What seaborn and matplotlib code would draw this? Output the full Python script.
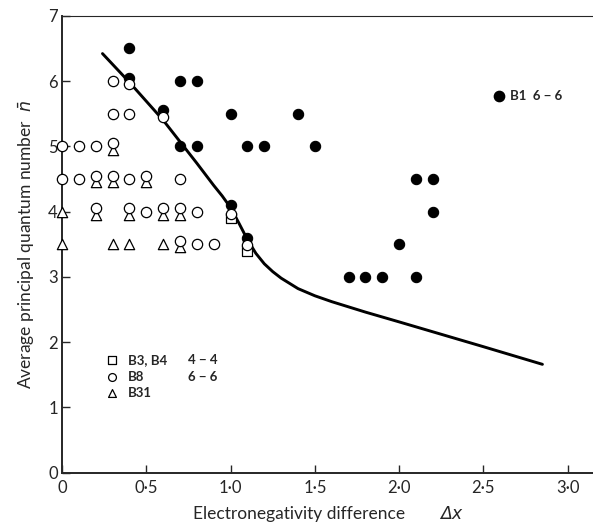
import matplotlib
matplotlib.use("Agg")
import matplotlib.pyplot as plt
import seaborn as sns
import pandas as pd

# ---- data ----
b1_x = [0.4, 0.4, 0.6, 0.7, 0.8, 0.7, 0.8, 1.0, 1.1, 1.2, 1.4, 1.5, 1.0, 1.1,
        1.7, 1.8, 1.9, 2.1, 2.0, 2.1, 2.2, 2.2]
b1_y = [6.5, 6.05, 5.55, 6.0, 6.0, 5.0, 5.0, 5.5, 5.0, 5.0, 5.5, 5.0, 4.1, 3.6,
        3.0, 3.0, 3.0, 3.0, 3.5, 4.5, 4.5, 4.0]

b8_x = [0.3, 0.4, 0.3, 0.4, 0.6,
        0.0, 0.1, 0.2, 0.3,
        0.0, 0.1, 0.2, 0.3, 0.4, 0.5, 0.7,
        0.2, 0.4, 0.5, 0.6, 0.7, 0.8, 1.0,
        0.7, 0.8, 0.9, 1.1]
b8_y = [6.0, 5.95, 5.5, 5.5, 5.45,
        5.0, 5.0, 5.0, 5.05,
        4.5, 4.5, 4.55, 4.55, 4.5, 4.55, 4.5,
        4.05, 4.05, 4.0, 4.05, 4.05, 4.0, 3.97,
        3.55, 3.5, 3.5, 3.49]

b31_x = [0.3, 0.2, 0.3, 0.5, 0.0, 0.2, 0.4, 0.6, 0.7, 0.0, 0.3, 0.4, 0.6, 0.7]
b31_y = [4.95, 4.45, 4.45, 4.45, 4.0, 3.95, 3.95, 3.95, 3.95, 3.5, 3.5, 3.5, 3.5, 3.45]

b3_x = [1.0, 1.1]
b3_y = [3.9, 3.4]

curve_x = [0.24, 0.40, 0.60, 0.80, 0.90, 0.95, 1.00, 1.05, 1.10, 1.15, 1.20,
           1.25, 1.30, 1.40, 1.50, 1.60, 1.70, 1.80, 2.00, 2.50, 2.85]
curve_y = [6.42, 5.98, 5.40, 4.74, 4.40, 4.24, 4.06, 3.82, 3.57, 3.36, 3.20,
           3.08, 2.98, 2.82, 2.71, 2.62, 2.54, 2.46, 2.31, 1.93, 1.66]

x_ticks = [0, 0.5, 1.0, 1.5, 2.0, 2.5, 3.0]
x_tick_labels = ["0", "0·5", "1·0", "1·5", "2·0", "2·5", "3·0"]
y_ticks = [0, 1, 2, 3, 4, 5, 6, 7]
y_tick_labels = ["0", "1", "2", "3", "4", "5", "6", "7"]

# ---- style ----
sns.set_style("ticks")
plt.rcParams["font.family"] = ["Lato", "DejaVu Sans"]
plt.rcParams["mathtext.fontset"] = "dejavusans"

W, H = 593, 524
fig = plt.figure(figsize=(W / 100, H / 100), dpi=100)
ax = fig.add_axes([0.1046, 0.0979, 0.8954, 0.8721])

curve_df = pd.DataFrame({"x": curve_x, "y": curve_y})
sns.lineplot(data=curve_df, x="x", y="y", ax=ax, sort=False, color="black",
             linewidth=2.1, zorder=1, estimator=None)

ms = 55
sns.scatterplot(x=b1_x, y=b1_y, ax=ax, marker="o", s=ms, color="black",
                edgecolor="black", linewidth=0.8, zorder=2, clip_on=False)
sns.scatterplot(x=b3_x, y=b3_y, ax=ax, marker="s", s=50, facecolor="white",
                edgecolor="black", linewidth=0.9, zorder=2, clip_on=False)
sns.scatterplot(x=b31_x, y=b31_y, ax=ax, marker="^", s=55, facecolor="white",
                edgecolor="black", linewidth=0.9, zorder=3, clip_on=False)
sns.scatterplot(x=b8_x, y=b8_y, ax=ax, marker="o", s=ms, facecolor="white",
                edgecolor="black", linewidth=0.9, zorder=4, clip_on=False)

# annotation keys
ax.scatter([2.59], [5.77], marker="o", s=55, color="black", zorder=5)
ax.text(2.655, 5.77, "B1  6 − 6", fontsize=9.5, fontweight="bold",
        va="center", ha="left")

key_y = [1.72, 1.47, 1.22]
key_m = ["s", "o", "^"]
key_t = ["B3, B4", "B8", "B31"]
key_c = ["4 − 4", "6 − 6", ""]
for yy, m, t, c in zip(key_y, key_m, key_t, key_c):
    ax.scatter([0.296], [yy], marker=m, s=32, facecolor="white",
               edgecolor="black", linewidth=0.9, zorder=5)
    ax.text(0.391, yy, t, fontsize=9.5, fontweight="bold", va="center", ha="left")
    if c:
        ax.text(0.747, yy, c, fontsize=9.5, fontweight="bold", va="center", ha="left")

ax.set_xlim(0, 3.15)
ax.set_ylim(0, 7)
ax.set_xticks(x_ticks)
ax.set_xticklabels(x_tick_labels)
ax.set_yticks(y_ticks)
ax.set_yticklabels(y_tick_labels)
ax.tick_params(axis="both", direction="in", labelsize=12, width=1.0)
ax.tick_params(axis="y", length=6, pad=3)
ax.tick_params(axis="x", length=6, pad=5)

for side in ["left", "bottom"]:
    ax.spines[side].set_linewidth(1.4)
ax.spines["top"].set_linewidth(0.8)
ax.spines["top"].set_visible(True)
ax.spines["right"].set_visible(False)

# x label: plain text plus italic Δx (drawn as figure text)
ax.set_xlabel("")
base_y = (H - 519) / H
fig.text(193 / W, base_y, "Electronegativity difference", fontsize=12.5,
         ha="left", va="baseline")
fig.text(440 / W, base_y, "Δx", fontsize=12.5, ha="left", va="baseline",
         family=["DejaVu Sans"], style="italic")

ax.set_ylabel(r"Average principal quantum number  $\bar{n}$", fontsize=12.5, labelpad=8)

fig.savefig("out.png", dpi=100)
